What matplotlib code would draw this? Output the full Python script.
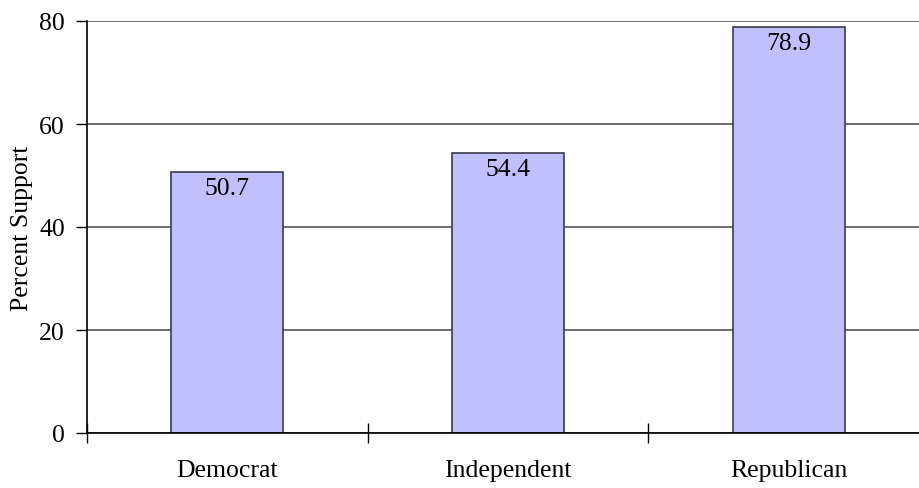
import numpy as np
import matplotlib.pyplot as plt

plt.rcParams['font.family'] = ['Liberation Serif', 'DejaVu Serif']

parties = ['Democrat', 'Independent', 'Republican']
support = [50.7, 54.4, 78.9]
yticks = [0, 20, 40, 60, 80]

fig = plt.figure(figsize=(9.19, 4.89), dpi=100)
ax = fig.add_axes([87/919, 1-434/489, (929-87)/919, (434-22)/489])

x = np.arange(len(parties))
bars = ax.bar(x, support, width=0.40, color='#C0C0FF', edgecolor='#3a3a4a', linewidth=1.2, zorder=3)
for b, v in zip(bars, support):
    ax.annotate(f'{v:.1f}', (b.get_x() + b.get_width()/2, v), xytext=(0, -4),
                textcoords='offset points', ha='center', va='top', fontsize=18.5, zorder=4)

ax.set_xlim(-0.5, 2.5)
ax.set_ylim(0, 80)
ax.set_yticks(yticks)
ax.yaxis.grid(True, color='#555555', linewidth=1.2, zorder=0)
ax.set_xticks(x)
ax.set_xticklabels(parties)
ax.set_xticks([-0.5, 0.5, 1.5, 2.5], minor=True)
ax.tick_params(axis='x', which='major', length=0, pad=19, labelsize=18.5)
ax.tick_params(axis='x', which='minor', length=14, direction='inout', width=1)
ax.tick_params(axis='y', length=8, width=1, pad=8, labelsize=18.5)
ax.set_ylabel('Percent Support', fontsize=18.5)
ax.yaxis.set_label_coords(-54/842, 0.5)

for s in ['top', 'right']:
    ax.spines[s].set_visible(False)
ax.spines['left'].set_linewidth(1.2)
ax.spines['bottom'].set_linewidth(1.2)
ax.spines['bottom'].set_zorder(5)

fig.savefig('out.png', dpi=100)
